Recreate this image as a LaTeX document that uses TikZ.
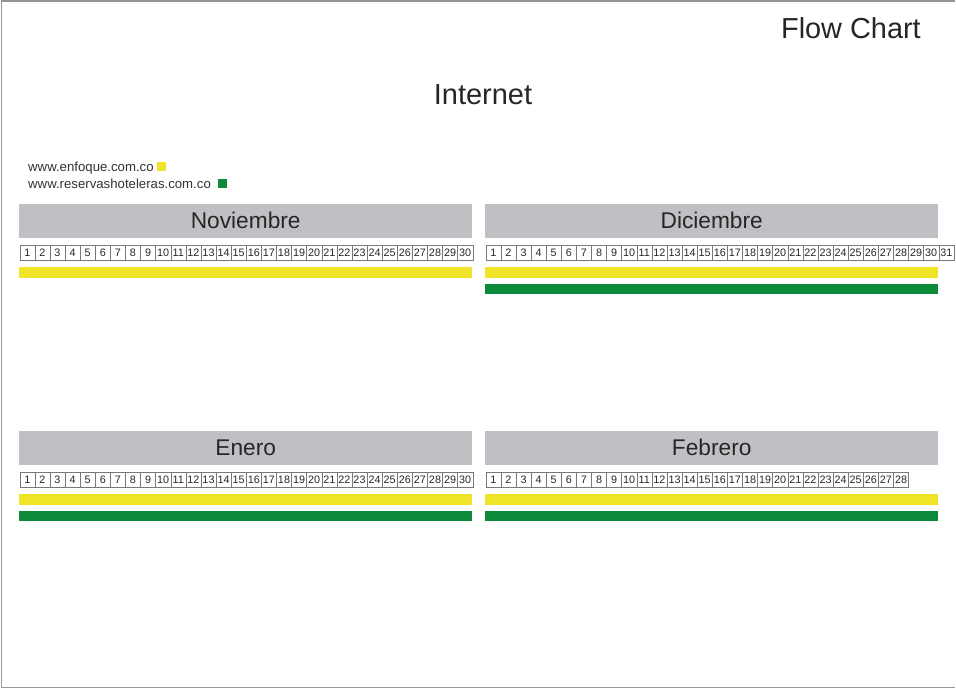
\documentclass[tikz,border=0pt]{standalone}
\usepackage{fontspec}
\setmainfont{Liberation Sans}
\definecolor{hdrgray}{RGB}{191,192,195}
\definecolor{barYellow}{RGB}{240,228,40}
\definecolor{barGreen}{RGB}{12,138,58}
\definecolor{cellline}{RGB}{120,120,120}
\definecolor{frameline}{RGB}{150,150,150}
\begin{document}
\begin{tikzpicture}[x=1pt,y=-1pt,
  hdr/.style={fill=hdrgray, draw=none, minimum width=453pt, minimum height=34pt, inner sep=0pt, anchor=north west, font=\fontsize{22.7}{26}\selectfont, text=black!85, text height=16.3pt, text depth=0pt},
  daycell/.style={draw=cellline, line width=0.5pt, fill=white, minimum width=15.1pt, minimum height=15pt, inner sep=0pt, anchor=north west, font=\fontsize{10.8}{12}\selectfont, text=black!85, text height=7.8pt, text depth=0pt},
  ybar/.style={fill=barYellow, draw=none, minimum width=453pt, minimum height=10.5pt, inner sep=0pt, anchor=north west},
  gbar/.style={fill=barGreen, draw=none, minimum width=453pt, minimum height=10pt, inner sep=0pt, anchor=north west},
  legtext/.style={inner sep=0pt, anchor=base west, font=\fontsize{13.2}{15}\selectfont, text=black!80},
  sq/.style={minimum size=9pt, inner sep=0pt, draw=none, anchor=north west}
]
\useasboundingbox (0,0) rectangle (956,689);
\fill[white] (0,0) rectangle (956,689);
\draw[frameline, line width=1.2pt] (955,1) -- (1.2,1) -- (1.2,687.5) -- (955,687.5);

\node[inner sep=0pt, anchor=base east, font=\fontsize{28.9}{32}\selectfont, text=black!85] (title) at (921,38) {Flow Chart};
\node[inner sep=0pt, anchor=base, font=\fontsize{29}{32}\selectfont, text=black!85] (internet) at (483,104) {Internet};

\node[legtext] (leg1) at (28,171) {www.enfoque.com.co};
\node[sq, fill=barYellow] (leg1sq) at (157,162) {};
\node[legtext] (leg2) at (28,188) {www.reservashoteleras.com.co};
\node[sq, fill=barGreen] (leg2sq) at (218,178.5) {};

% Noviembre
\node[hdr] (nov) at (19,203.5) {Noviembre};
\foreach \d in {1,...,30} \node[daycell] (nov-\d) at ({19.5+(\d-1)*15.1},244.5) {\d};
\node[ybar] (novY) at (19,267) {};

% Diciembre
\node[hdr] (dic) at (485,203.5) {Diciembre};
\foreach \d in {1,...,31} \node[daycell] (dic-\d) at ({485.5+(\d-1)*15.1},244.5) {\d};
\node[ybar] (dicY) at (485,267) {};
\node[gbar] (dicG) at (485,284) {};

% Enero
\node[hdr] (ene) at (19,430.5) {Enero};
\foreach \d in {1,...,30} \node[daycell] (ene-\d) at ({19.5+(\d-1)*15.1},471.5) {\d};
\node[ybar] (eneY) at (19,494) {};
\node[gbar] (eneG) at (19,511) {};

% Febrero
\node[hdr] (feb) at (485,430.5) {Febrero};
\foreach \d in {1,...,28} \node[daycell] (feb-\d) at ({485.5+(\d-1)*15.1},471.5) {\d};
\node[ybar] (febY) at (485,494) {};
\node[gbar] (febG) at (485,511) {};
\end{tikzpicture}
\end{document}
